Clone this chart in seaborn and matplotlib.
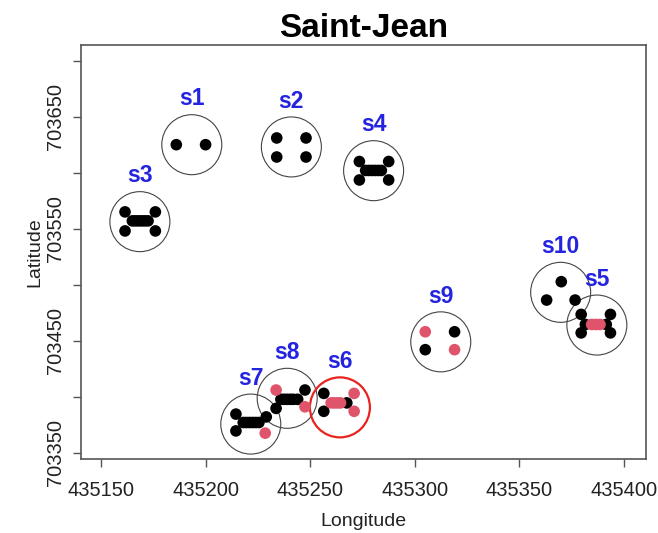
import matplotlib
matplotlib.use("Agg")
import matplotlib.pyplot as plt
import seaborn as sns
import pandas as pd

# ---- data ----
clusters = ["s1", "s2", "s3", "s4", "s5", "s6", "s7", "s8", "s9", "s10"]
center_x = [435193.4, 435241.0, 435168.6, 435280.3, 435387.0,
            435264.2, 435221.6, 435239.0, 435312.4, 435369.7]
center_y = [703625.0, 703623.0, 703556.3, 703601.8, 703464.0,
            703390.5, 703375.6, 703398.6, 703449.0, 703493.2]
highlight = ["s6"]

# individual points per cluster (x, y, status A = black, B = pink)
s1_x = [435186.0, 435200.0]
s1_y = [703625.0, 703625.0]
s1_s = ["A", "A"]
s2_x = [435234.0, 435248.0, 435234.0, 435248.0]
s2_y = [703631.0, 703631.0, 703614.0, 703614.0]
s2_s = ["A", "A", "A", "A"]
s3_x = [435161.5, 435176.0, 435161.5, 435176.0,
        435165.0, 435166.5, 435168.0, 435169.5, 435171.0, 435172.5]
s3_y = [703565.0, 703565.0, 703548.0, 703548.0,
        703557.0, 703557.0, 703557.0, 703557.0, 703557.0, 703557.0]
s3_s = ["A"] * 10
s4_x = [435273.5, 435287.5, 435273.5, 435287.5,
        435276.5, 435278.0, 435279.5, 435281.0, 435282.5, 435284.0]
s4_y = [703610.0, 703610.0, 703593.5, 703593.5,
        703602.0, 703602.0, 703602.0, 703602.0, 703602.0, 703602.0]
s4_s = ["A"] * 10
s5_x = [435379.5, 435393.5, 435379.5, 435393.5,
        435381.5, 435391.5, 435384.5, 435386.5, 435388.5]
s5_y = [703473.5, 703473.5, 703457.0, 703457.0,
        703464.5, 703464.5, 703464.5, 703464.5, 703464.5]
s5_s = ["A", "A", "A", "A", "A", "A", "B", "B", "B"]
s6_x = [435256.5, 435256.5, 435267.5, 435271.0, 435271.0,
        435260.0, 435261.5, 435263.0, 435264.5]
s6_y = [703403.0, 703387.0, 703394.5, 703403.0, 703387.0,
        703394.5, 703394.5, 703394.5, 703394.5]
s6_s = ["A", "A", "A", "B", "B", "B", "B", "B", "B"]
s7_x = [435214.5, 435214.5, 435218.0, 435219.5, 435221.0, 435222.5, 435224.0,
        435225.5, 435229.0, 435228.5]
s7_y = [703384.5, 703369.5, 703377.0, 703377.0, 703377.0, 703377.0, 703377.0,
        703377.0, 703382.0, 703367.5]
s7_s = ["A", "A", "A", "A", "A", "A", "A", "A", "A", "B"]
s8_x = [435247.5, 435233.7, 435236.0, 435237.5, 435239.0, 435240.5, 435242.0,
        435244.0, 435233.7, 435247.5]
s8_y = [703406.0, 703389.6, 703397.7, 703397.7, 703397.7, 703397.7, 703397.7,
        703397.7, 703406.0, 703391.0]
s8_s = ["A", "A", "A", "A", "A", "A", "A", "A", "B", "B"]
s9_x = [435305.0, 435319.0, 435319.0, 435305.0]
s9_y = [703458.0, 703442.0, 703458.0, 703442.0]
s9_s = ["B", "B", "A", "A"]
s10_x = [435370.0, 435363.0, 435376.6]
s10_y = [703502.7, 703486.3, 703486.3]
s10_s = ["A", "A", "A"]

x_ticks = [435150, 435200, 435250, 435300, 435350, 435400]
y_ticks = [703350, 703400, 703450, 703500, 703550, 703600, 703650, 703700]
y_ticklabels = ["703350", "", "703450", "", "703550", "", "703650", ""]

# ---- build tables ----
groups = [(s1_x, s1_y, s1_s), (s2_x, s2_y, s2_s), (s3_x, s3_y, s3_s),
          (s4_x, s4_y, s4_s), (s5_x, s5_y, s5_s), (s6_x, s6_y, s6_s),
          (s7_x, s7_y, s7_s), (s8_x, s8_y, s8_s), (s9_x, s9_y, s9_s),
          (s10_x, s10_y, s10_s)]
rows = []
for name, (gx, gy, gs) in zip(clusters, groups):
    for a, b, c in zip(gx, gy, gs):
        rows.append({"x": a, "y": b, "status": c, "cluster": name})
pts = pd.DataFrame(rows)
cent = pd.DataFrame({"x": center_x, "y": center_y, "cluster": clusters})
cent["hl"] = cent["cluster"].isin(highlight)

# ---- style ----
sns.set_style("white")
plt.rcParams["font.family"] = ["Liberation Sans", "DejaVu Sans"]

fig = plt.figure(figsize=(6.58, 5.33), dpi=100)
ax = fig.add_axes([0.1226, 0.1388, 0.9818 - 0.1226, 0.9156 - 0.1388])

normal = cent[~cent["hl"]]
hl = cent[cent["hl"]]
sns.scatterplot(data=normal, x="x", y="y", s=1866, marker="o",
                facecolor="none", edgecolor="#444444", linewidth=0.8,
                ax=ax, legend=False, zorder=2)
sns.scatterplot(data=hl, x="x", y="y", s=1866, marker="o",
                facecolor="none", edgecolor="#E8231E", linewidth=1.6,
                ax=ax, legend=False, zorder=2)

sns.scatterplot(data=pts[pts["status"] == "A"], x="x", y="y", s=70,
                color="black", edgecolor="none", ax=ax, legend=False, zorder=3)
sns.scatterplot(data=pts[pts["status"] == "B"], x="x", y="y", s=70,
                color="#DF536B", edgecolor="none", ax=ax, legend=False, zorder=4)

for c, x, y in zip(clusters, center_x, center_y):
    ax.annotate(c, (x, y), xytext=(0, 33), textcoords="offset points",
                ha="center", va="center", fontsize=16.5, fontweight="bold",
                color="#2424E0")

ax.set_xlim(435140.3, 435410.5)
ax.set_ylim(703344.4, 703714.0)
ax.set_xticks(x_ticks)
ax.set_xticklabels([str(t) for t in x_ticks])
ax.set_yticks(y_ticks)
ax.set_yticklabels(y_ticklabels, rotation=90, va="center")
ax.tick_params(axis="x", length=6, width=1, color="#555555", labelsize=14.5,
               labelcolor="#222222", pad=10, bottom=True)
ax.tick_params(axis="y", length=6, width=1, color="#555555", labelsize=14.5,
               labelcolor="#222222", pad=5, left=True)
for sp in ax.spines.values():
    sp.set_color("#555555")
    sp.set_linewidth(1.2)

ax.set_xlabel("Longitude", fontsize=14, color="#222222", labelpad=9)
ax.set_ylabel("Latitude", fontsize=14, color="#222222", labelpad=2)
ax.set_title("Saint-Jean", fontsize=24, fontweight="bold", color="black", pad=6)

fig.savefig("out.png", dpi=100)
